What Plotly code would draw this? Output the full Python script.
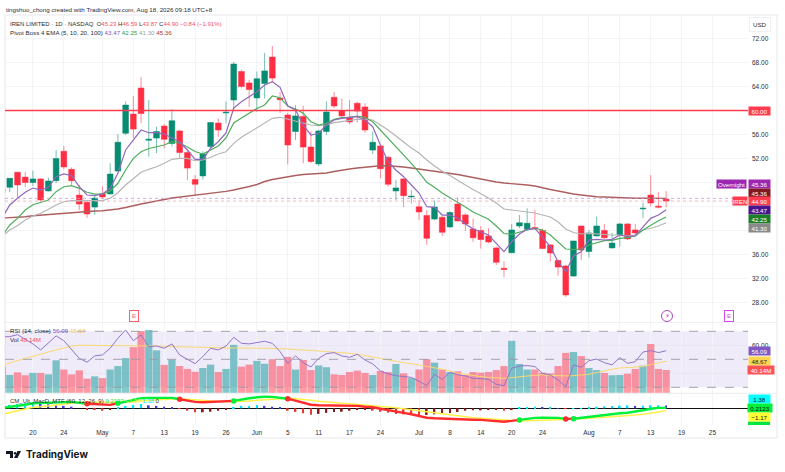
import pandas as pd
import plotly.graph_objects as go
from plotly.subplots import make_subplots

W, H = 785, 472

# trading days on the axis, the ones after Aug 17 are only empty space on the right
dates = [d.strftime("%Y-%m-%d") for d in pd.bdate_range(
    "2026-04-14", "2026-09-01", freq="C",
    holidays=["2026-05-25", "2026-06-19", "2026-07-03"])]

tick_dates = ["2026-04-20", "2026-04-24", "2026-05-01", "2026-05-07", "2026-05-13", "2026-05-19",
              "2026-05-26", "2026-06-01", "2026-06-05", "2026-06-11", "2026-06-17", "2026-06-24",
              "2026-07-01", "2026-07-08", "2026-07-14", "2026-07-20", "2026-07-24", "2026-08-03",
              "2026-08-07", "2026-08-13", "2026-08-19", "2026-08-25"]
tick_text = ["20", "24", "May", "7", "13", "19", "26", "Jun", "5", "11", "17", "24",
             "Jul", "8", "14", "20", "24", "Aug", "7", "13", "19", "25"]
price_ticks = [72, 68, 64, 60, 56, 52, 48, 44, 40, 36, 32, 28]
# 48, 44 and 40 sit under the coloured last-value labels
price_tick_text = ["72.00", "68.00", "64.00", "60.00", "56.00", "52.00", "", "", "", "36.00", "32.00", "28.00"]

opens = [46.3, 47.2, 49.7, 48.9, 48.0, 48.6, 46.6, 48.3, 53.2, 50.2, 45.9, 44.7, 43.9, 46.1, 46.1, 49.9, 56.2, 59.4,
         63.75, 55.05, 55.4, 57.4, 54.5, 56.6, 53.0, 48.5, 49.1, 54.0, 57.9, 59.6, 61.75, 66.5, 64.6, 62.1, 64.5,
         68.9, 62.1, 59.25, 56.5, 59.0, 53.9, 51.1, 56.5, 62.2, 60.0, 58.9, 61.2, 60.6, 53.4, 54.1, 52.2, 46.6,
         48.6, 45.6, 43.95, 42.5, 41.9, 42.2, 40.6, 44.4, 42.6, 40.25, 40.0, 39.1, 37.1, 33.7, 36.3, 40.75, 40.2,
         40.5, 40.0, 37.6, 35.0, 34.1, 32.4, 40.75, 36.5, 39.1, 40.0, 37.1, 39.25, 41.1, 40.1, 43.6, 45.9, 44.05, 45.23]
highs = [47.3, 48.7, 49.8, 49.8, 50.0, 48.7, 48.8, 53.4, 54.1, 50.5, 47.6, 45.1, 45.9, 47.4, 51.2, 56.1, 61.5, 62.4,
         65.6, 61.75, 57.3, 57.75, 60.2, 56.8, 53.5, 49.25, 53.2, 58.1, 58.7, 61.5, 68.1, 66.8, 65.1, 66.5, 69.6,
         70.75, 63.1, 59.6, 60.9, 60.8, 56.5, 56.8, 61.5, 63.1, 62.0, 61.75, 61.5, 61.2, 56.5, 54.3, 52.4, 48.4,
         48.7, 46.75, 45.1, 43.4, 45.0, 42.4, 43.2, 45.5, 42.9, 42.0, 40.75, 40.4, 37.3, 34.9, 41.1, 42.6, 43.7,
         43.4, 40.3, 37.7, 35.2, 34.3, 38.3, 40.8, 40.1, 42.3, 41.1, 39.6, 41.3, 41.2, 41.1, 44.6, 49.25, 46.4, 46.59]
lows = [45.6, 46.4, 45.4, 47.2, 47.4, 44.8, 46.5, 47.9, 50.2, 47.6, 43.4, 42.1, 42.6, 45.4, 46.0, 49.8, 55.9, 55.4,
        57.9, 52.3, 52.9, 53.7, 54.0, 52.0, 48.4, 45.8, 48.5, 53.7, 55.6, 57.9, 60.1, 63.7, 60.6, 59.8, 62.0,
        64.8, 59.6, 51.0, 55.1, 51.2, 51.2, 50.75, 55.9, 60.4, 58.7, 57.75, 58.0, 56.3, 52.75, 48.7, 47.3, 45.1,
        43.9, 44.5, 41.75, 37.6, 41.7, 39.1, 40.4, 41.5, 39.9, 38.1, 37.0, 37.9, 34.25, 32.2, 36.2, 40.4, 40.0,
        40.2, 36.9, 34.8, 32.5, 28.9, 32.3, 35.1, 35.5, 39.0, 38.5, 37.0, 37.3, 38.4, 39.1, 42.1, 44.0, 43.7, 43.87]
closes = [47.0, 48.7, 47.6, 48.0, 48.6, 45.1, 48.25, 52.0, 50.6, 48.3, 44.4, 42.75, 45.4, 45.6, 49.4, 54.7, 60.9, 56.9,
          59.5, 55.2, 56.5, 55.2, 58.3, 53.0, 50.4, 47.7, 52.75, 58.0, 56.75, 59.7, 67.75, 64.0, 63.5, 65.3, 66.6,
          65.4, 61.8, 54.25, 59.1, 53.9, 51.5, 56.6, 59.75, 60.75, 59.1, 58.1, 59.9, 56.75, 54.7, 50.3, 47.7, 47.1,
          45.8, 45.7, 43.1, 38.7, 43.9, 39.7, 43.0, 41.6, 41.1, 38.8, 38.5, 38.1, 34.7, 33.5, 40.1, 41.3, 41.2,
          40.3, 37.0, 36.25, 33.9, 29.25, 38.25, 36.75, 39.6, 40.75, 38.8, 37.9, 41.1, 38.6, 39.6, 43.7, 44.6, 43.9, 44.9]

ema5 = [42.1, 44.25, 45.37, 46.37, 47.08, 46.75, 47.2, 48.97, 49.42, 49.13, 47.3, 45.92, 45.8, 46.08, 47.03, 49.53, 53.42,
        55.08, 56.75, 56.3, 56.3, 56.08, 55.37, 54.75, 53.42, 51.87, 51.87, 53.7, 54.8, 56.25, 60.42, 61.47, 62.3,
        63.13, 64.25, 64.8, 63.87, 60.75, 60.08, 57.58, 55.92, 56.2, 57.58, 58.42, 58.7, 58.8, 58.97, 58.42, 57.3,
        54.25, 51.47, 50.08, 48.97, 47.58, 46.25, 43.97, 43.87, 42.58, 42.58, 42.08, 41.08, 40.25, 39.8, 39.25,
        37.87, 36.47, 38.13, 39.42, 40.2, 40.37, 38.87, 37.3, 34.8, 33.13, 35.75, 36.47, 38.42, 38.53, 38.42, 38.53,
        39.25, 38.97, 39.13, 40.53, 42.03, 42.58, 43.47]
ema10 = [39.1, 40.92, 42.03, 43.42, 44.3, 44.63, 45.08, 46.47, 47.3, 47.47, 47.03, 46.37, 46.08, 46.08, 46.58, 47.87, 50.08,
         52.03, 53.13, 53.67, 53.97, 54.25, 54.8, 54.58, 53.92, 53.17, 52.75, 53.42, 54.08, 55.42, 57.92, 58.75, 59.5,
         60.33, 60.92, 62.42, 62.13, 60.75, 60.25, 59.53, 58.13, 57.58, 57.87, 58.53, 58.8, 58.87, 59.08, 58.87, 58.13,
         56.75, 55.47, 54.08, 52.58, 51.2, 49.7, 48.03, 47.2, 46.25, 45.47, 44.75, 43.92, 43.08, 42.5, 41.87, 40.75,
         39.5, 39.37, 39.75, 40.08, 40.37, 40.08, 39.25, 38.08, 36.92, 36.83, 36.92, 37.58, 37.97, 38.3, 38.37, 38.7,
         38.8, 39.08, 40.08, 40.92, 41.63, 42.25]
ema20 = [39.1, 40.08, 40.8, 41.75, 42.42, 42.87, 43.53, 44.25, 44.8, 44.97, 44.97, 44.97, 44.97, 44.97, 45.37, 46.3, 47.58,
         48.7, 49.7, 50.2, 50.63, 51.2, 51.87, 52.03, 52.03, 51.63, 51.75, 52.2, 52.75, 53.13, 54.53, 55.53, 56.3,
         57.03, 57.87, 58.7, 58.87, 58.53, 58.3, 57.87, 57.58, 57.47, 57.58, 57.97, 58.13, 58.3, 58.53, 58.53, 58.42,
         57.58, 56.75, 55.75, 54.75, 53.75, 52.92, 51.75, 50.75, 49.87, 49.17, 48.33, 47.58, 46.83, 46.17, 45.42,
         44.58, 43.58, 43.42, 43.25, 43.13, 42.92, 42.58, 42.25, 41.42, 40.25, 39.67, 39.42, 39.53, 39.42, 39.3, 39.25,
         39.25, 39.08, 39.25, 40.08, 40.37, 40.75, 41.3]
ema100 = [42.08, 42.13, 42.2, 42.3, 42.47, 42.58, 42.67, 42.75, 42.92, 43.03, 43.13, 43.17, 43.25, 43.3, 43.42, 43.58, 43.83,
          44.17, 44.42, 44.67, 44.97, 45.17, 45.42, 45.58, 45.7, 45.8, 46.0, 46.2, 46.37, 46.53, 46.75, 47.0, 47.33,
          47.67, 48.17, 48.5, 48.75, 48.92, 49.17, 49.33, 49.42, 49.5, 49.58, 49.83, 50.08, 50.25, 50.42, 50.58, 50.75,
          50.8, 50.8, 50.72, 50.58, 50.42, 50.25, 50.05, 49.92, 49.75, 49.58, 49.33, 49.08, 48.83, 48.58, 48.25, 48.08,
          47.92, 47.83, 47.75, 47.58, 47.42, 47.08, 46.83, 46.58, 46.3, 46.08, 45.92, 45.75, 45.63, 45.58, 45.5, 45.45,
          45.42, 45.38, 45.37, 45.36, 45.36, 45.36]

# volume in millions
volume = [46, 31.4, 36, 31, 35, 35, 32.5, 57, 41, 32.5, 39.5, 25, 29, 26, 41, 47, 61, 80, 108, 110, 74.5, 49, 58, 47, 42,
          37, 43.6, 49.5, 36.6, 42, 84, 46, 49.5, 56, 51, 59, 47, 63, 41, 57.6, 40, 48, 45, 32.5, 31.4, 36.6, 39, 35,
          31.4, 38.4, 36.6, 50.6, 34.3, 26, 41, 59, 53, 41, 36.6, 37.8, 31.4, 36.6, 35.5, 36.6, 40, 47, 91, 50.6, 41,
          41, 35.5, 34.3, 47, 70, 71.5, 64.5, 43.6, 40, 35, 31, 31.4, 33.7, 42, 47.7, 85.5, 42, 40.14]

rsi = [66, 66.2, 67.6, 64.3, 61.0, 56.7, 61.9, 66.7, 63.3, 57.1, 50.7, 47.9, 52.4, 53.1, 57.9, 65.0, 71.0, 63.3, 67.4, 59.0,
       59.5, 57.9, 61.0, 53.1, 50.0, 46.9, 51.9, 57.9, 56.7, 59.5, 65.7, 61.4, 61.0, 62.1, 62.9, 61.4, 55.5, 47.1, 52.4,
       47.6, 44.5, 50.7, 54.0, 54.8, 52.4, 51.4, 53.6, 49.5, 46.7, 41.7, 39.5, 38.3, 37.6, 37.1, 34.3, 31.2, 39.3, 35.7,
       40.7, 39.0, 38.1, 36.4, 36.2, 35.7, 32.1, 31.2, 43.6, 45.2, 45.5, 44.8, 40.0, 38.8, 35.2, 30.5, 46.0, 44.3, 49.0,
       50.2, 47.6, 46.0, 51.2, 47.1, 48.3, 55.2, 56.2, 54.8, 56.09]
rsi_ma = [45.6, 47.1, 49, 50.7, 51.9, 53.6, 55.2, 56.7, 58.3, 59.5, 60, 60, 60, 59.8, 59.5, 59.5, 59.8, 59.8, 59.8, 59.8, 59.5,
          59.3, 59, 58.8, 58.6, 58.6, 58.6, 58.3, 58.3, 58.1, 58.1, 57.9, 57.9, 57.9, 57.9, 57.9, 57.6, 57.4, 56.9, 56.7,
          56.4, 56, 55.5, 55.2, 54.8, 54.3, 53.6, 52.6, 51.4, 50.2, 49.5, 48.6, 47.6, 46.9, 46, 45, 44, 42.9, 41.7, 40,
          39.3, 38.3, 37.6, 37.1, 36.7, 36.4, 36.9, 37.6, 38.1, 38.6, 38.8, 38.6, 38.1, 38.1, 38.3, 38.6, 39.3, 40.5, 41.9,
          42.9, 43.8, 44, 44.5, 44.8, 46.2, 47.4, 48.67]

macd = [0.2, 0.67, 1.2, 1.8, 2.5, 2.7, 2.8, 3, 3.3, 3.2, 2.8, 2.3, 2, 1.7, 1.7, 2.5, 3.3, 4.3, 5, 5.2, 5.3, 5.3, 5.2, 4.5, 3.7,
        3.2, 3, 3.2, 3.3, 3.5, 3.7, 4.5, 5, 5.5, 5.8, 5.7, 5.3, 4.8, 3.8, 2.8, 1.8, 1.5, 1.5, 1.5, 1.5, 1.3, 1.2, 0.8, 0.5,
        -0.2, -1, -1.7, -2.3, -3, -3.8, -4.7, -5, -5.2, -5.3, -5.3, -5.5, -5.7, -5.8, -6, -6.3, -6.7, -6.3, -5.8, -5.2,
        -4.8, -4.7, -4.7, -4.8, -5.3, -5.2, -4.7, -4.3, -3.8, -3.5, -3, -2.5, -2.2, -1.7, -1, -0.2, 0.2, 0.2123]
signal = [-3, -2.2, -1.2, -0.5, 0.5, 0.8, 1.3, 1.8, 2.2, 2.5, 2.8, 3.2, 3, 3, 3, 3, 3.2, 3.5, 3.8, 4, 4.3, 4.5, 4.7, 4.8, 4.5,
          4.2, 3.8, 3.5, 3.4, 3.3, 3.3, 3.4, 3.6, 4, 4.3, 4.6, 4.9, 5, 4.8, 4.5, 4, 3.5, 3.1, 2.8, 2.5, 2.3, 2, 1.8, 1.5,
          1.2, 0.7, 0.3, -0.2, -0.7, -1.2, -1.9, -2.5, -3, -3.5, -4, -4.4, -4.7, -5, -5.3, -5.7, -6, -6.2, -6.3, -6.2, -6,
          -5.9, -5.8, -5.7, -5.6, -5.5, -5.3, -5, -4.7, -4.5, -4.3, -4.1, -3.7, -3.4, -3, -2.5, -1.8, -1.17]
hist = [1.3, 1.7, 2.2, 2.5, 2.7, 2.5, 2, 1.7, 1.2, 0.8, 0, -0.5, -0.8, -1.2, -0.5, 0.3, 1.2, 1.7, 2.2, 1.5, 1.2, 0.8, 0.5, -0.2,
        -1.2, -2, -2, -1.7, -1.2, -0.5, 0.7, 1.2, 1.2, 1.7, 1.2, 0.8, 0.3, -1.2, -1.8, -2.5, -3.2, -2.8, -2.3, -1.8, -1.7,
        -1.2, -0.8, -0.7, -1.2, -1.7, -2.2, -2.8, -3, -3.2, -3.3, -3.3, -3, -2.7, -2.3, -1.8, -1.2, -1, -1, -0.8, -0.8,
        -1.2, -0.5, 0.3, 0.5, 0.8, 0.5, 0.5, 0.1, -0.3, 0.1, 0.1, 0.3, 0.8, 1, 1.2, 1.3, 1.5, 1.2, 1.3, 1.5, 1.5, 1.38]
# bars where the macd line flips colour, it starts lime
cross_bars = [11, 15, 23, 30, 37, 67, 73, 74]

n = len(closes)
for s in (opens, highs, lows, ema5, ema10, ema20, ema100, volume, rsi, rsi_ma, macd, signal, hist):
    assert len(s) == n, len(s)
days = dates[:n]

UP = "#078c72"
DOWN = "#ff2e43"
FONT = "Liberation Sans"
TXT = "#2a2e39"


def xp(x):
    return x / W


def yp(y):
    return 1 - y / H


fig = make_subplots(rows=3, cols=1, shared_xaxes=True, vertical_spacing=0,
                    specs=[[{}], [{"secondary_y": True}], [{}]])

# --------- price pane ---------
fig.add_trace(go.Candlestick(
    x=days, open=opens, high=highs, low=lows, close=closes, whiskerwidth=0,
    increasing=dict(line=dict(color=UP, width=0.55), fillcolor=UP),
    decreasing=dict(line=dict(color=DOWN, width=0.55), fillcolor=DOWN)), row=1, col=1)
for vals, color, lw in [(ema100, "#ad5f5f", 1.4), (ema20, "#b5b5b5", 1.2), (ema10, "#4fae5c", 1.2), (ema5, "#9068bd", 1.2)]:
    fig.add_trace(go.Scatter(x=days, y=vals, mode="lines", line=dict(color=color, width=lw)), row=1, col=1)

# --------- RSI + volume pane ---------
vol_colors = ["rgba(10,150,150,0.5)" if c >= o else "rgba(255,46,67,0.48)" for o, c in zip(opens, closes)]
fig.add_trace(go.Bar(x=days, y=volume, marker=dict(color=vol_colors, line_width=0)), row=2, col=1, secondary_y=False)
fig.add_trace(go.Scatter(x=days, y=rsi_ma, mode="lines", line=dict(color="#fbd971", width=1)),
              row=2, col=1, secondary_y=True)
fig.add_trace(go.Scatter(x=days, y=rsi, mode="lines", line=dict(color="#9275c9", width=1)),
              row=2, col=1, secondary_y=True)

# --------- macd pane ---------
hist_colors = []
for i, v in enumerate(hist):
    prev = hist[i - 1] if i else v
    if v >= 0:
        hist_colors.append("#00e5ff" if v >= prev else "#3f3fe0")
    else:
        hist_colors.append("#e53935" if v < prev else "#8b1a1a")
fig.add_trace(go.Bar(x=days, y=hist, width=0.22, marker=dict(color=hist_colors, line_width=0)), row=3, col=1)
fig.add_trace(go.Scatter(x=days, y=signal, mode="lines", line=dict(color="#fff04a", width=1.5)), row=3, col=1)
edges = [0] + cross_bars + [n - 1]
for k in range(len(edges) - 1):
    a, b = edges[k], edges[k + 1]
    col = "#00f03c" if k % 2 == 0 else "#ff2d2d"
    fig.add_trace(go.Scatter(x=days[a:b + 1], y=macd[a:b + 1], mode="lines",
                             line=dict(color=col, width=2.4)), row=3, col=1)
fig.add_trace(go.Scatter(
    x=[days[i] for i in cross_bars], y=[macd[i] for i in cross_bars], mode="markers",
    marker=dict(size=5.5, color=["#ff2d2d" if k % 2 == 0 else "#00f03c" for k in range(len(cross_bars))])),
    row=3, col=1)

# --------- axes ---------
grid = "#f3f4f7"
fig.update_xaxes(type="category", categoryorder="array", categoryarray=dates,
                 range=[0.38, 96.6], tickmode="array", tickvals=tick_dates, ticktext=tick_text,
                 showgrid=True, gridcolor=grid, gridwidth=1, ticks="", showline=False, zeroline=False,
                 tickfont=dict(family=FONT, size=6.5, color=TXT), rangeslider_visible=False)
fig.update_layout(
    width=W, height=H, margin=dict(l=0, r=0, t=0, b=0), showlegend=False,
    paper_bgcolor="white", plot_bgcolor="white", barmode="overlay", bargap=0.06,
    boxgap=0.14, boxgroupgap=0.14,
    font=dict(family=FONT, size=6.5, color=TXT),
    xaxis=dict(domain=[xp(5), xp(748)]),
    xaxis2=dict(domain=[xp(5), xp(748)]),
    xaxis3=dict(domain=[xp(5), xp(748)], ticklabelstandoff=2),
    yaxis=dict(domain=[yp(322), yp(15)], side="right", range=[24.75, 75.92], tickmode="array",
               tickvals=price_ticks, ticktext=price_tick_text, showgrid=True, gridcolor=grid,
               zeroline=False, ticks="", ticklabelstandoff=3),
    yaxis2=dict(domain=[yp(393), yp(322)], range=[0, 123.9], showticklabels=False, showgrid=False, zeroline=False),
    yaxis3=dict(domain=[yp(393), yp(322)], side="right", range=[25.93, 76.64], tickmode="array",
                tickvals=[60, 40], ticktext=["60.00", ""], showgrid=True, gridcolor="#e9e6f2", zeroline=False,
                ticks="", ticklabelstandoff=3),
    yaxis4=dict(domain=[yp(425), yp(393)], range=[-8.35, 7.65], showticklabels=False, showgrid=False,
                zeroline=True, zerolinecolor="#111111", zerolinewidth=1.4),
)

# --------- shapes ---------
shapes = [
    # outer frame and pane separators
    dict(type="rect", xref="paper", yref="paper", x0=xp(5), x1=xp(777), y0=yp(438), y1=yp(15),
         line=dict(color="#eff0f3", width=1.5), layer="below"),
    dict(type="line", xref="paper", yref="paper", x0=xp(5), x1=xp(777), y0=yp(322.5), y1=yp(322.5),
         line=dict(color="#eff0f3", width=1.2)),
    dict(type="line", xref="paper", yref="paper", x0=xp(5), x1=xp(777), y0=yp(393.3), y1=yp(393.3),
         line=dict(color="#eff0f3", width=1.2)),
    # rsi band
    dict(type="rect", xref="x2 domain", yref="y3", x0=0, x1=1, y0=30, y1=70, layer="below",
         fillcolor="rgba(126,87,194,0.12)", line_width=0),
    # level line and last price lines
    dict(type="line", xref="x domain", yref="y", x0=0, x1=1, y0=60, y1=60, line=dict(color="#ff3b4e", width=1.3)),
    dict(type="line", xref="x domain", yref="y", x0=0, x1=1, y0=45.36, y1=45.36,
         line=dict(color="#cf8ee3", width=0.8, dash="dot")),
    dict(type="line", xref="x domain", yref="y", x0=0, x1=1, y0=44.9, y1=44.9,
         line=dict(color="#f5a3b0", width=0.8, dash="dot")),
    # clipped label at the bottom of the macd scale
    dict(type="rect", xref="paper", yref="paper", x0=xp(748), x1=xp(770), y0=yp(425), y1=yp(421.5),
         fillcolor="#00e640", line_width=0),
    # circle of the dividend badge
    dict(type="circle", xref="paper", yref="paper", x0=xp(661.5), x1=xp(672.5), y0=yp(321.5), y1=yp(310.5),
         fillcolor="white", line=dict(color="#ab47bc", width=1)),
    # logo
    dict(type="path", xref="paper", yref="paper", fillcolor="#131722", line_width=0,
         path=f"M {xp(6)} {yp(451)} L {xp(13)} {yp(451)} L {xp(13)} {yp(458)} L {xp(10)} {yp(458)} "
              f"L {xp(10)} {yp(454)} L {xp(6)} {yp(454)} Z"),
    dict(type="circle", xref="paper", yref="paper", fillcolor="#131722", line_width=0,
         x0=xp(13.8), x1=xp(16.2), y0=yp(454.4), y1=yp(452)),
    dict(type="path", xref="paper", yref="paper", fillcolor="#131722", line_width=0,
         path=f"M {xp(17.5)} {yp(451)} L {xp(21)} {yp(451)} L {xp(17.5)} {yp(458)} L {xp(14)} {yp(458)} Z"),
]
for lvl in (70, 50, 30):
    shapes.append(dict(type="line", xref="x2 domain", yref="y3", x0=0, x1=1, y0=lvl, y1=lvl,
                       line=dict(color="#9a9aa5", width=0.9, dash="dash")))
fig.update_layout(shapes=shapes)


# --------- text ---------
def note(text, x, y, size=6.2, color=TXT, anchor="left", bg=None, family=FONT, border=None, pad=1):
    fig.add_annotation(text=text, xref="paper", yref="paper", x=xp(x), y=yp(y), xanchor=anchor, yanchor="middle",
                       showarrow=False, font=dict(family=family, size=size, color=color),
                       bgcolor=bg, bordercolor=border, borderwidth=1 if border else 0, borderpad=pad)


def scale_label(text, y, bg, color="white", x=759, width=21):
    fig.add_annotation(text=text, xref="paper", yref="paper", x=xp(x), y=yp(y), xanchor="center", yanchor="middle",
                       showarrow=False, font=dict(family=FONT, size=6.2, color=color),
                       bgcolor=bg, width=width, height=8, borderpad=0)


def span(text, color):
    return f'<span style="color:{color}">{text}</span>'


RED = "#f7525f"
note("tingshuo_chong created with TradingView.com, Aug 18, 2026 09:18 UTC+8", 5, 9.5, size=6.2)
note("IREN LIMITED · 1D · NASDAQ  O" + span("45.23", RED) + " H" + span("46.59", RED) + " L" + span("43.87", RED)
     + " C" + span("44.90", RED) + " " + span("−0.84 (−1.91%)", RED), 9, 23.5, size=6)
note("Pivot Boss 4 EMA (5, 10, 20, 100) " + span("43.47", "#7e57c2") + " " + span("42.25", "#2e9e45") + " "
     + span("41.30", "#a0a0a0") + " " + span("45.36", "#a33a3a"), 9, 32)
note("RSI (14, close) " + span("56.09", "#7e57c2") + " " + span("48.67", "#f5c842"), 9, 330.5)
note("Vol " + span("40.14M", RED), 9, 339)
note("CM_Ult_MacD_MTF (60, 12, 26, 9) " + span("0.2123", "#00e640") + " " + span("−1.17", "#f5e642") + " "
     + span("1.38", "#00e5ff") + " 0", 9, 401, size=6)
note("<b>TradingView</b>", 25, 454.5, size=10, color="#131722", family="Inter")
note("USD", 760, 24.5, anchor="center", border="#eff0f3", pad=3, bg="white")

# right side price labels
scale_label("60.00", 110.5, "#ff3b4e")
scale_label("Overnight", 184, "#9c27b0", x=731.5, width=29)
scale_label("45.36", 184, "#9c27b0")
scale_label("45.36", 192.8, "#801922")
scale_label("IREN", 201.3, "#ff3b4e", x=739.5, width=14)
scale_label("44.90", 201.3, "#ff3b4e")
scale_label("43.47", 210, "#4a148c")
scale_label("42.25", 219, "#1b7f2a")
scale_label("41.30", 228, "#8a8a8a")
scale_label("56.09", 351, "#7e57c2")
scale_label("48.67", 361.3, "#fdd54f", color="#222222")
scale_label("40.14M", 370.3, "#ff5252", x=761, width=26)
scale_label("1.38", 399, "#00ffff", color="#111111")
scale_label("0.2123", 408.3, "#00f03c", color="#111111", width=24, x=760)
scale_label("−1.17", 417, "#ffff33", color="#111111")

# event badges under the candles
note("E", 133.5, 315.5, size=6, color="#ff5c6c", anchor="center", border="#ff5c6c", pad=2, bg="white")
note("E", 728.5, 315.5, size=6, color="#e040fb", anchor="center", border="#e040fb", pad=2, bg="white")
note("⚡", 667, 316, size=7, color="#ab47bc", anchor="center", family="DejaVu Sans")

fig.write_html("out.html", config=dict(displayModeBar=False),
               post_script="document.body.style.margin='0';")
